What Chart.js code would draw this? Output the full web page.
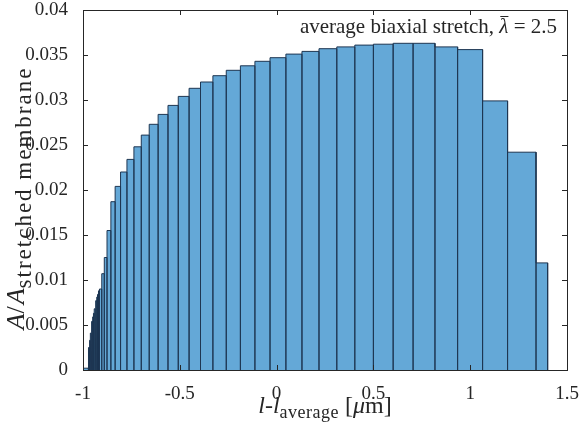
<!DOCTYPE html>
<html>
<head>
<meta charset="utf-8">
<script src="https://cdn.jsdelivr.net/npm/chart.js@4.4.1/dist/chart.umd.min.js"></script>
<style>
  html, body { margin: 0; padding: 0; background: #fff; }
</style>
</head>
<body>
<canvas id="chart" width="579" height="430"></canvas>
<script>
// histogram bin edges, l - l_average in µm
const binEdges = [
  -1.000, -0.974, -0.970, -0.966, -0.962, -0.958, -0.954, -0.950, -0.946, -0.942,
  -0.937, -0.933, -0.929, -0.925, -0.920, -0.915, -0.903, -0.890, -0.876, -0.856,
  -0.834, -0.806, -0.773, -0.737, -0.699, -0.658, -0.612, -0.561, -0.508, -0.452,
  -0.393, -0.329, -0.260, -0.187, -0.112, -0.034, 0.048, 0.131, 0.219, 0.311,
  0.404, 0.500, 0.602, 0.705, 0.818, 0.935, 1.064, 1.193, 1.340, 1.400
];
// area fraction in each bin
const binHeights = [
  0.0002, 0.0012, 0.0025, 0.0033, 0.0041, 0.0048, 0.0054, 0.0059, 0.0063, 0.0068,
  0.0073, 0.0077, 0.0081, 0.0084, 0.0088, 0.0090, 0.0107, 0.0125, 0.0155, 0.0187,
  0.0204, 0.0220, 0.0234, 0.0248, 0.0261, 0.0273, 0.0284, 0.0294, 0.0304, 0.0313,
  0.0320, 0.0327, 0.0333, 0.0338, 0.0343, 0.0347, 0.0351, 0.0354, 0.0357, 0.0359,
  0.0361, 0.0362, 0.0363, 0.0363, 0.0359, 0.0356, 0.0299, 0.0242, 0.0119
];
const xTicks = [-1, -0.5, 0, 0.5, 1, 1.5];
const yTicks = [0, 0.005, 0.01, 0.015, 0.02, 0.025, 0.03, 0.035, 0.04];
const stretchLabel = 'average biaxial stretch, ';
const stretchValue = ' = 2.5';

const serif = '"Liberation Serif", "DejaVu Serif", serif';
const axisColor = '#262626';

// outline of the histogram: up, across, down for every bin
const outline = [];
for (let i = 0; i < binHeights.length; i++) {
    outline.push({ x: binEdges[i], y: 0 });
    outline.push({ x: binEdges[i], y: binHeights[i] });
    outline.push({ x: binEdges[i + 1], y: binHeights[i] });
}
outline.push({ x: binEdges[binEdges.length - 1], y: 0 });

// draws a row of differently styled text pieces, returns where each landed
function drawRuns(ctx, runs, x, y, align) {
    let total = 0;
    runs.forEach(r => {
        ctx.font = r.font;
        ctx.letterSpacing = r.spacing || '0px';
        r.w = ctx.measureText(r.text).width;
        total += r.w;
    });
    let cx = align === 'right' ? x - total : align === 'center' ? x - total / 2 : x;
    runs.forEach(r => {
        ctx.font = r.font;
        ctx.letterSpacing = r.spacing || '0px';
        ctx.fillText(r.text, cx, y + (r.dy || 0));
        r.x = cx;
        cx += r.w;
    });
    ctx.letterSpacing = '0px';
    return runs;
}

// box round the axes with inward ticks on all four sides
const frame = {
    id: 'frame',
    afterDatasetsDraw(chart) {
        const { ctx, chartArea: a, scales } = chart;
        const len = 5;
        ctx.save();
        ctx.strokeStyle = axisColor;
        ctx.lineWidth = 1;
        ctx.beginPath();
        xTicks.forEach(v => {
            const px = Math.round(scales.x.getPixelForValue(v)) + 0.5;
            ctx.moveTo(px, a.bottom); ctx.lineTo(px, a.bottom - len);
            ctx.moveTo(px, a.top); ctx.lineTo(px, a.top + len);
        });
        yTicks.forEach(v => {
            const py = Math.round(scales.y.getPixelForValue(v)) + 0.5;
            ctx.moveTo(a.left, py); ctx.lineTo(a.left + len, py);
            ctx.moveTo(a.right, py); ctx.lineTo(a.right - len, py);
        });
        ctx.stroke();
        ctx.strokeRect(Math.round(a.left) + 0.5, Math.round(a.top) + 0.5,
            Math.round(a.right - a.left), Math.round(a.bottom - a.top));
        ctx.restore();
    },
    afterDraw(chart) {
        const { ctx, chartArea: a } = chart;
        ctx.save();
        ctx.fillStyle = axisColor;
        ctx.textBaseline = 'alphabetic';

        // x axis title
        drawRuns(ctx, [
            { text: 'l', font: 'italic 24px ' + serif },
            { text: '-', font: '24px ' + serif },
            { text: 'l', font: 'italic 24px ' + serif },
            { text: 'average', font: '18px ' + serif, dy: 5, spacing: '0.5px' },
            { text: ' [', font: '24px ' + serif },
            { text: 'μ', font: 'italic 24px ' + serif },
            { text: 'm]', font: '24px ' + serif }
        ], (a.left + a.right) / 2, 413, 'center');

        // y axis title
        ctx.save();
        ctx.translate(24, 198);
        ctx.rotate(-Math.PI / 2);
        drawRuns(ctx, [
            { text: 'A', font: 'italic 26px ' + serif },
            { text: '/', font: '26px ' + serif, spacing: '2px' },
            { text: 'A', font: 'italic 26px ' + serif },
            { text: 'stretched membrane', font: '23px ' + serif, dy: 7, spacing: '2px' }
        ], 0, 0, 'center');
        ctx.restore();

        // annotation in the top right corner
        const runs = drawRuns(ctx, [
            { text: stretchLabel, font: '21px ' + serif },
            { text: 'λ', font: 'italic 21px ' + serif },
            { text: stretchValue, font: '21px ' + serif }
        ], a.right - 10, 33, 'right');
        const lam = runs[1];
        ctx.strokeStyle = axisColor;
        ctx.lineWidth = 1;
        ctx.beginPath();
        ctx.moveTo(lam.x + 1, 16.5);
        ctx.lineTo(lam.x + lam.w, 16.5);
        ctx.stroke();
        ctx.restore();
    }
};

const tickFont = { family: serif, size: 19 };

new Chart(document.getElementById('chart'), {
    type: 'line',
    data: {
        datasets: [{
            data: outline,
            fill: 'origin',
            backgroundColor: 'rgb(100,168,215)',
            borderColor: '#1e3652',
            borderWidth: 1,
            borderJoinStyle: 'miter',
            pointRadius: 0,
            tension: 0
        }]
    },
    options: {
        responsive: false,
        animation: false,
        layout: { padding: { top: 10, right: 12, left: 0, bottom: 0 } },
        plugins: { legend: { display: false }, tooltip: { enabled: false } },
        scales: {
            x: {
                type: 'linear',
                min: -1,
                max: 1.5,
                grid: { display: false },
                border: { display: false },
                afterBuildTicks: s => { s.ticks = xTicks.map(v => ({ value: v })); },
                afterFit: s => { s.height = 60; s.paddingLeft = 0; s.paddingRight = 0; },
                ticks: {
                    font: tickFont,
                    color: axisColor,
                    padding: 5,
                    maxRotation: 0,
                    autoSkip: false,
                    callback: v => String(v)
                }
            },
            y: {
                min: 0,
                max: 0.04,
                grid: { display: false },
                border: { display: false },
                afterBuildTicks: s => { s.ticks = yTicks.map(v => ({ value: v })); },
                afterFit: s => { s.width = 83; s.paddingTop = 0; s.paddingBottom = 0; },
                ticks: {
                    font: tickFont,
                    color: axisColor,
                    padding: 7,
                    autoSkip: false,
                    callback: v => String(parseFloat(v.toFixed(3)))
                }
            }
        }
    },
    plugins: [frame]
});
</script>
</body>
</html>
